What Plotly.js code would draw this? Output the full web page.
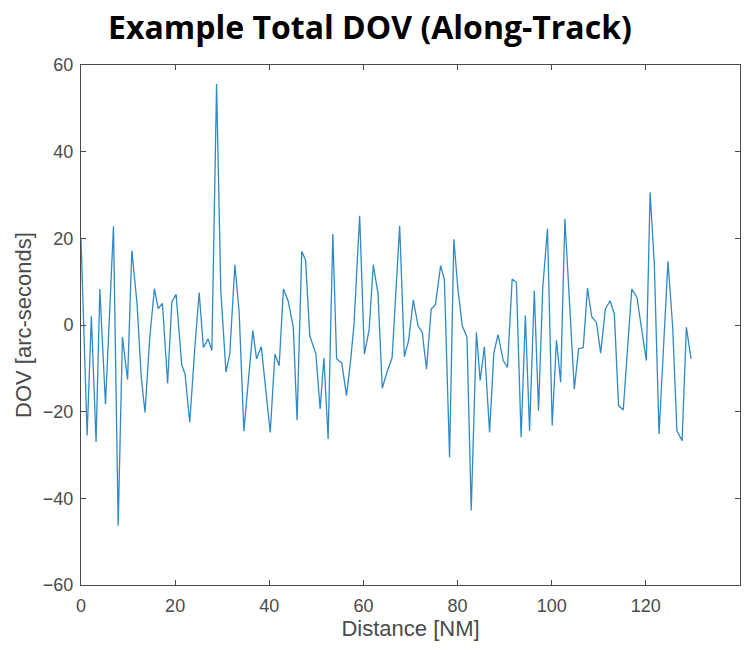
<!DOCTYPE html>
<html>
<head>
<meta charset="utf-8">
<script src="https://cdn.plot.ly/plotly-3.0.1.min.js"></script>
<style>html,body{margin:0;padding:0;background:#fff;}#chart{width:755px;height:652px;}</style>
</head>
<body>
<div id="chart"></div>
<script>
const distanceNM = [0,1.3,2.2,3.2,4.0,5.2,6.9,7.9,8.8,9.9,10.8,11.9,12.8,13.6,14.6,15.6,16.4,17.3,18.4,19.3,20.2,21.4,22.1,23.1,24.2,25.1,26.0,27.0,27.8,28.8,29.7,30.8,31.6,32.7,33.6,34.6,36.5,37.3,38.3,40.2,41.2,42.1,43.0,44.0,45.1,45.9,46.9,47.7,48.6,49.9,50.8,51.6,52.5,53.5,54.3,55.4,56.4,57.3,58.0,59.2,60.2,61.2,62.1,63.1,64.0,65.0,66.1,67.7,68.7,69.6,70.6,71.6,72.5,73.4,74.4,75.3,76.4,77.2,78.3,79.2,80.1,81.0,82.0,82.9,84.0,84.8,85.7,86.8,87.7,88.6,89.7,90.6,91.6,92.5,93.5,94.4,95.3,96.3,97.2,98.1,99.1,100.1,101.0,101.9,102.8,103.8,104.8,105.7,106.7,107.6,108.5,109.5,110.4,111.4,112.4,113.3,114.2,115.2,116.1,117.0,118.1,119.1,120.1,120.9,121.8,122.8,123.8,124.7,125.7,126.6,127.7,128.6,129.6];
const dovArcSec = [20,-25.5,2,-27,8.3,-18.3,22.8,-46.3,-2.8,-12.6,17.2,5,-12,-20.2,-3,8.4,3.8,5,-13.5,5.3,7.1,-9.2,-11.3,-22.5,-5,7.5,-5.2,-3.2,-5.9,55.6,7.9,-10.9,-6.7,13.9,3,-24.5,-1.3,-7.8,-5,-24.8,-6.7,-9.4,8.3,5.6,-0.5,-22,17,15,-2.5,-6.7,-19.4,-7.6,-26.3,21,-7.8,-8.8,-16.3,-8,0.2,25.2,-6.7,-1.2,13.9,7.2,-14.6,-10.9,-7.5,22.9,-7.3,-3.6,5.8,-0.2,-1.7,-10.2,3.7,4.7,13.7,10.4,-30.5,19.8,8,-0.2,-2.8,-42.8,-1.7,-12.8,-5,-24.8,-6.5,-2.2,-8.2,-9.8,10.6,9.8,-25.9,2.2,-24.4,7.9,-19.8,8.7,22.2,-23.2,-3.5,-13.2,24.5,5,-14.8,-5.5,-5.2,8.5,1.9,0.6,-6.5,3.7,5.6,2.5,-18.6,-19.6,-5,8.3,6.4,-1,-8.2,30.6,14,-25.2,-3.6,14.7,-0.5,-24.4,-26.7,-0.5,-7.8];
const xTicks = [0,20,40,60,80,100,120,140];
const yTicks = [-60,-40,-20,0,20,40,60];

const labelFont = 'Liberation Sans, Arial, sans-serif';
const axisCommon = {
  showline: true, mirror: 'ticks', linecolor: '#4a4a4a', linewidth: 1,
  ticks: 'inside', ticklen: 5, tickcolor: '#4a4a4a',
  showgrid: false, zeroline: false,
  tickfont: {family: labelFont, size: 18, color: '#4a4a4a'}
};

Plotly.newPlot('chart', [{
  x: distanceNM, y: dovArcSec, type: 'scatter', mode: 'lines',
  line: {color: '#3189c6', width: 1.3}
}], {
  width: 755, height: 652,
  margin: {l: 81, r: 15, t: 65, b: 67},
  paper_bgcolor: '#fff', plot_bgcolor: '#fff',
  showlegend: false,
  title: {text: '<b>Example Total DOV (Along-Track)</b>', x: 0.49, xanchor: 'center', y: 0.957, yanchor: 'middle',
    font: {family: 'Open Sans, Noto Sans, sans-serif', size: 32, color: '#000'}},
  xaxis: Object.assign({}, axisCommon, {range: [0, 140], tickvals: xTicks, ticklabelstandoff: 4,
    title: {text: 'Distance [NM]', standoff: 5, font: {family: labelFont, size: 22, color: '#4a4a4a'}}}),
  yaxis: Object.assign({}, axisCommon, {range: [-60, 60], tickvals: yTicks, ticklabelstandoff: 3,
    title: {text: 'DOV [arc-seconds]', standoff: 5, font: {family: labelFont, size: 22, color: '#4a4a4a'}}})
}, {displayModeBar: false, staticPlot: true});
</script>
</body>
</html>
